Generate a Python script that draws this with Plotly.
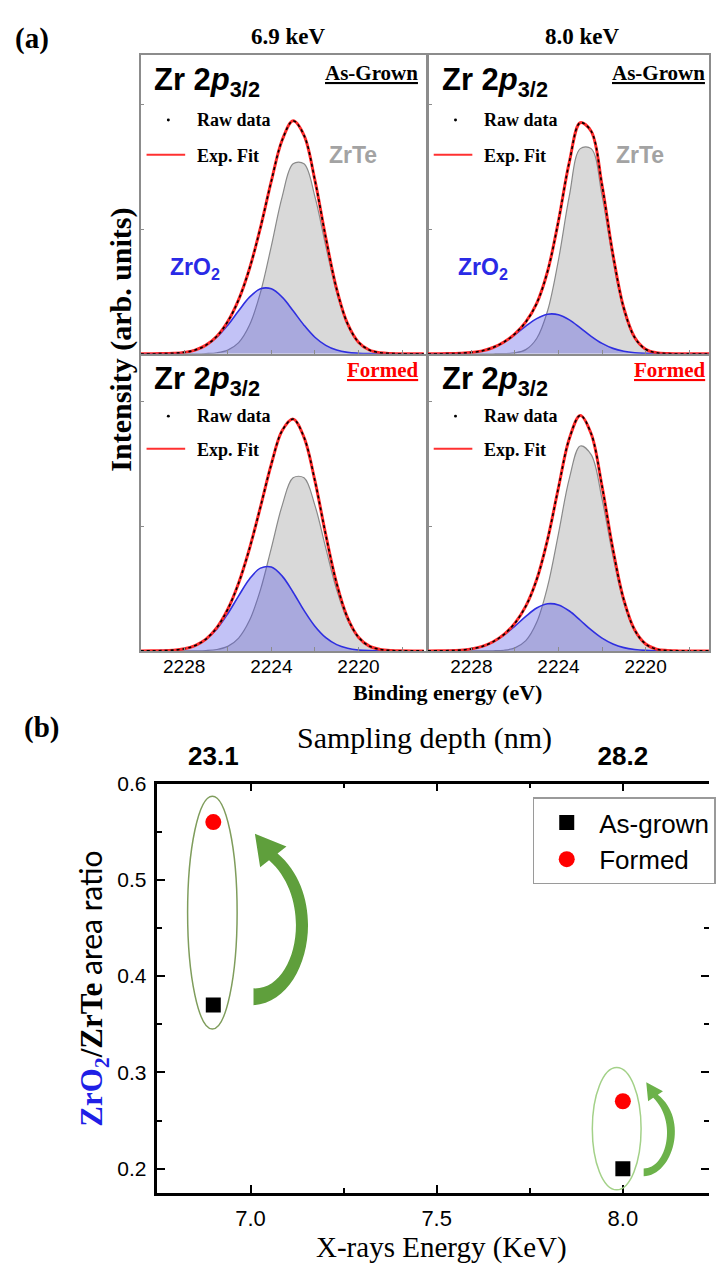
import plotly.graph_objects as go

W, H = 716, 1266

# ---------------- data: panel (a) ----------------
binding_energy_ev = [2230.0, 2229.5, 2229.0, 2228.5, 2228.0, 2227.5, 2227.0, 2226.5, 2226.0,
                     2225.5, 2225.0, 2224.5, 2224.0, 2223.5, 2223.0, 2222.5, 2222.0, 2221.5,
                     2221.0, 2220.5, 2220.0, 2219.5, 2219.0, 2218.5, 2218.0, 2217.5, 2217.0]

zrte_69_as_grown = [0, 0, 0, 0, 0, 0, 0.002, 0.008, 0.029, 0.089, 0.230, 0.490, 0.864, 1.261,
                    1.524, 1.524, 1.261, 0.864, 0.490, 0.230, 0.089, 0.029, 0.008, 0.002, 0, 0, 0]
zro2_69_as_grown = [0, 0, 0.001, 0.004, 0.011, 0.029, 0.067, 0.132, 0.229, 0.345, 0.454, 0.521,
                    0.521, 0.454, 0.345, 0.229, 0.132, 0.067, 0.029, 0.011, 0.004, 0.001, 0, 0, 0, 0, 0]

zrte_80_as_grown = [0, 0, 0, 0, 0, 0, 0, 0.001, 0.007, 0.033, 0.122, 0.345, 0.754, 1.268,
                    1.646, 1.646, 1.268, 0.754, 0.345, 0.122, 0.033, 0.007, 0.001, 0, 0, 0, 0]
zro2_80_as_grown = [0, 0, 0.001, 0.004, 0.010, 0.023, 0.050, 0.093, 0.153, 0.222, 0.282, 0.317,
                    0.313, 0.272, 0.208, 0.140, 0.083, 0.043, 0.020, 0.008, 0.003, 0.001, 0, 0, 0, 0, 0]

zrte_69_formed = [0, 0, 0, 0, 0, 0.001, 0.003, 0.011, 0.036, 0.103, 0.245, 0.490, 0.825, 1.168,
                  1.389, 1.389, 1.168, 0.825, 0.490, 0.245, 0.103, 0.036, 0.011, 0.003, 0.001, 0, 0]
zro2_69_formed = [0, 0.001, 0.002, 0.006, 0.017, 0.042, 0.092, 0.176, 0.298, 0.442, 0.577, 0.664,
                  0.673, 0.600, 0.471, 0.325, 0.198, 0.106, 0.050, 0.021, 0.007, 0.002, 0.001, 0, 0, 0, 0]

zrte_80_formed = [0, 0, 0, 0, 0, 0, 0.001, 0.005, 0.024, 0.082, 0.229, 0.517, 0.942, 1.385,
                  1.644, 1.575, 1.218, 0.760, 0.383, 0.156, 0.051, 0.013, 0.003, 0, 0, 0, 0]
zro2_80_formed = [0, 0.001, 0.002, 0.006, 0.016, 0.036, 0.072, 0.127, 0.199, 0.277, 0.344, 0.378,
                  0.369, 0.320, 0.246, 0.168, 0.102, 0.055, 0.026, 0.011, 0.004, 0.001, 0, 0, 0, 0, 0]

be_tick_vals = [2228, 2224, 2220]
be_minor_tick_vals = [2226, 2222, 2218]

# ---------------- data: panel (b) ----------------
xray_energy_kev = [6.9, 8.0]
ratio_as_grown = [0.37, 0.20]
ratio_formed = [0.56, 0.27]
sampling_depth_labels = ["23.1", "28.2"]

# decorations of panel (b), in data units
ellipse_69 = dict(x0=6.831, x1=6.964, y0=0.345, y1=0.587)
ellipse_80 = dict(x0=7.918, x1=8.049, y0=0.178, y1=0.305)
big_arrow = [("M", 7.008, 0.3698), ("C", 7.1569, 0.3729, 7.2154, 0.4808, 7.0726, 0.5274),
             ("L", 7.0965, 0.5347), ("L", 7.0117, 0.5480), ("L", 7.0258, 0.5132),
             ("L", 7.0497, 0.5205), ("C", 7.1729, 0.4787, 7.1250, 0.3852, 7.0080, 0.3873), ("Z",)]
small_arrow = [("M", 8.0559, 0.1920), ("C", 8.1356, 0.1930, 8.1782, 0.2516, 8.0939, 0.2768),
               ("L", 8.1077, 0.2804), ("L", 8.0628, 0.2897), ("L", 8.0678, 0.2701),
               ("L", 8.0816, 0.2737), ("C", 8.1463, 0.2495, 8.1197, 0.2002, 8.0559, 0.2002), ("Z",)]

SERIF = "Liberation Serif"
SANS = "Liberation Sans"


def px(x):
    return x / W


def py(y):
    return 1 - y / H


def path_str(cmds):
    parts = []
    for c in cmds:
        nums = c[1:]
        pts = " ".join(f"{nums[i]},{nums[i + 1]}" for i in range(0, len(nums), 2))
        parts.append((c[0] + " " + pts).strip())
    return " ".join(parts)


fig = go.Figure()
annotations = []
shapes = []


def ann(text, x, y, size, family=SERIF, color="black", xanchor="center", yanchor="middle", angle=0):
    annotations.append(dict(text=text, x=px(x), y=py(y), xref="paper", yref="paper",
                            showarrow=False, xanchor=xanchor, yanchor=yanchor, textangle=angle,
                            font=dict(size=size, family=family, color=color)))


# per-row offsets of the in-panel texts (px from panel top)
top_row_off = dict(title=28, status=19, raw=66, fit=102)
bottom_row_off = dict(title=26, status=14, raw=61, fit=95)

panels = [
    dict(n=1, L=142, R=431, T=43, B=345, zrte=zrte_69_as_grown, zro2=zro2_69_as_grown,
         status="As-Grown", scol="black", top=True, off=top_row_off),
    dict(n=2, L=432, R=716, T=43, B=345, zrte=zrte_80_as_grown, zro2=zro2_80_as_grown,
         status="As-Grown", scol="black", top=True, off=top_row_off),
    dict(n=3, L=142, R=431, T=347, B=645, zrte=zrte_69_formed, zro2=zro2_69_formed,
         status="Formed", scol="#ff0000", top=False, off=bottom_row_off),
    dict(n=4, L=432, R=716, T=347, B=645, zrte=zrte_80_formed, zro2=zro2_80_formed,
         status="Formed", scol="#ff0000", top=False, off=bottom_row_off),
]

PX_PER_EV = 22.0
PX_PER_UNIT = 125.8

layout_axes = {}
for p in panels:
    n = p["n"]
    xa = "x" if n == 1 else f"x{n}"
    ya = "y" if n == 1 else f"y{n}"
    fit = [a + b for a, b in zip(p["zrte"], p["zro2"])]
    common = dict(xaxis=xa, yaxis=ya, showlegend=False, hoverinfo="skip", x=binding_energy_ev)
    fig.add_trace(go.Scatter(y=p["zrte"], mode="lines", fill="tozeroy", fillcolor="#d9d9d9",
                             line=dict(color="#8a8a8a", width=1.2, shape="spline"), **common))
    fig.add_trace(go.Scatter(y=p["zro2"], mode="lines", fill="tozeroy",
                             fillcolor="rgba(80,80,230,0.35)",
                             line=dict(color="#2f2fe0", width=1.6, shape="spline"), **common))
    fig.add_trace(go.Scatter(y=fit, mode="lines",
                             line=dict(color="#ff2a2a", width=3, shape="spline"), **common))
    fig.add_trace(go.Scatter(y=fit, mode="lines",
                             line=dict(color="black", width=1.6, dash="dot", shape="spline"), **common))

    width_px = p["R"] - p["L"]
    height_px = p["B"] - p["T"]
    xkey = "xaxis" if n == 1 else f"xaxis{n}"
    ykey = "yaxis" if n == 1 else f"yaxis{n}"
    layout_axes[xkey] = dict(domain=[px(p["L"]), px(p["R"])],
                             range=[2230, 2230 - width_px / PX_PER_EV], anchor=ya,
                             showline=True, mirror=True, linecolor="#8c8c8c", linewidth=1.6,
                             ticks="inside", ticklen=4, tickcolor="#8c8c8c",
                             tickvals=be_tick_vals,
                             minor=dict(tickvals=be_minor_tick_vals, ticks="inside", ticklen=4,
                                        tickcolor="#8c8c8c"),
                             showticklabels=not p["top"], ticklabelstandoff=-2,
                             tickfont=dict(family=SANS, size=19, color="black"),
                             showgrid=False, zeroline=False)
    layout_axes[ykey] = dict(domain=[py(p["B"]), py(p["T"])],
                             range=[0, height_px / PX_PER_UNIT], anchor=xa,
                             showline=True, mirror=True, linecolor="#8c8c8c", linewidth=1.6,
                             ticks="inside", ticklen=4, tickcolor="#8c8c8c", tickvals=[1, 2],
                             showticklabels=False, showgrid=False, zeroline=False)

    L, T, o = p["L"], p["T"], p["off"]
    ann("<b>Zr 2<i>p</i><sub>3/2</sub></b>", L + 12, T + o["title"], 31, SANS, xanchor="left")
    ann(f"<b><u>{p['status']}</u></b>", L + 282, T + o["status"], 21, SERIF, p["scol"],
        xanchor="right")
    shapes.append(dict(type="circle", xref="paper", yref="paper", x0=px(L + 26.5), x1=px(L + 29.5),
                       y0=py(T + o["raw"] + 1.5), y1=py(T + o["raw"] - 1.5),
                       fillcolor="black", line=dict(width=0)))
    ann("<b>Raw data</b>", L + 55, T + o["raw"], 18, SERIF, xanchor="left")
    shapes.append(dict(type="line", xref="paper", yref="paper", x0=px(L + 6), x1=px(L + 45),
                       y0=py(T + o["fit"] - 1), y1=py(T + o["fit"] - 1),
                       line=dict(color="#ff3030", width=2)))
    ann("<b>Exp. Fit</b>", L + 55, T + o["fit"], 18, SERIF, xanchor="left")
    if p["top"]:
        ann("<b>ZrTe</b>", L + 188, T + 101, 23, SANS, "#a3a3a3", xanchor="left")
        ann("<b>ZrO<sub>2</sub></b>", L + 28, T + 216, 23, SANS, "#2a2ae6", xanchor="left")

ann("<b>(a)</b>", 32, 27, 29)
ann("<b>6.9 keV</b>", 291, 25, 23)
ann("<b>8.0 keV</b>", 588, 25, 23)
ann("<b>Binding energy (eV)</b>", 452, 687, 22)
ann("<b>Intensity (arb. units)</b>", 122, 331, 30, angle=-90)

# ---------------- panel (b) ----------------
fig.add_trace(go.Scatter(x=xray_energy_kev, y=ratio_as_grown, mode="markers", name="As-grown",
                         marker=dict(symbol="square", size=15, color="black"),
                         xaxis="x5", yaxis="y5", hoverinfo="skip"))
fig.add_trace(go.Scatter(x=xray_energy_kev, y=ratio_formed, mode="markers", name="Formed",
                         marker=dict(symbol="circle", size=16, color="#ff0000"),
                         xaxis="x5", yaxis="y5", hoverinfo="skip"))
# carriers for the top (sampling depth) axis and the right tick-only axis
fig.add_trace(go.Scatter(x=xray_energy_kev, y=ratio_formed, mode="markers", showlegend=False,
                         marker=dict(size=1, opacity=0), xaxis="x6", yaxis="y5", hoverinfo="skip"))
fig.add_trace(go.Scatter(x=xray_energy_kev, y=ratio_formed, mode="markers", showlegend=False,
                         marker=dict(size=1, opacity=0), xaxis="x5", yaxis="y6", hoverinfo="skip"))

B_L, B_R, B_T, B_B = 159, 716, 779, 1192
x_px_per_kev = 376.0
xrange_b = [6.75, 6.75 + (B_R - B_L) / x_px_per_kev]
yrange_b = [0.175, 0.6]
tick_style = dict(ticks="inside", ticklen=8, tickwidth=2, tickcolor="black",
                  showgrid=False, zeroline=False)
minor_x = dict(dtick=0.25, ticks="inside", ticklen=5, tickwidth=2, tickcolor="black")
minor_y = dict(dtick=0.05, ticks="inside", ticklen=5, tickwidth=2, tickcolor="black")
layout_axes["xaxis5"] = dict(domain=[px(B_L), px(B_R)], range=xrange_b, anchor="y5",
                             showline=True, linecolor="black", linewidth=2.5, mirror="ticks",
                             tick0=7.0, dtick=0.5, tickformat=".1f", minor=minor_x,
                             tickfont=dict(family=SANS, size=22, color="black"),
                             ticklabelstandoff=4, **tick_style)
layout_axes["yaxis5"] = dict(domain=[py(B_B), py(B_T)], range=yrange_b, anchor="x5",
                             showline=True, linecolor="black", linewidth=2.5, mirror=False,
                             tick0=0.2, dtick=0.1, tickformat=".1f", minor=minor_y,
                             tickfont=dict(family=SANS, size=21, color="black"),
                             ticklabelstandoff=4, **tick_style)
layout_axes["yaxis6"] = dict(overlaying="y5", side="right", anchor="x5", range=yrange_b,
                             showline=False, tick0=0.2, dtick=0.1, minor=minor_y,
                             showticklabels=False, **tick_style)
layout_axes["xaxis6"] = dict(overlaying="x5", side="top", anchor="y5", range=xrange_b,
                             tickvals=xray_energy_kev, ticktext=sampling_depth_labels,
                             ticks="", showline=False, showgrid=False, zeroline=False,
                             ticklabelstandoff=12,
                             tickfont=dict(family=SANS, size=26, color="black", weight="bold"))

shapes.append(dict(type="circle", xref="x5", yref="y5", **ellipse_69,
                   line=dict(color="#7f9d5c", width=1.5)))
shapes.append(dict(type="circle", xref="x5", yref="y5", **ellipse_80,
                   line=dict(color="#a3d188", width=1.5)))
shapes.append(dict(type="path", xref="x5", yref="y5", path=path_str(big_arrow),
                   fillcolor="#5f9f3c", line=dict(width=0)))
shapes.append(dict(type="path", xref="x5", yref="y5", path=path_str(small_arrow),
                   fillcolor="#6cb24a", line=dict(width=0)))

ann("<b>(b)</b>", 42, 722, 29)
ann("Sampling depth (nm)", 429, 733, 30)
ann("X-rays Energy (KeV)", 446, 1247, 29)
ann("<b><span style='color:#1f1fe6'>ZrO<sub>2</sub></span>/ZrTe</b>"
    "<span style='font-family:Lato;font-size:30px'> area ratio</span>",
    94, 986, 31, angle=-90)

fig.update_layout(
    width=W, height=H, autosize=False,
    margin=dict(l=0, r=0, t=0, b=0),
    paper_bgcolor="white", plot_bgcolor="white",
    annotations=annotations, shapes=shapes,
    legend=dict(x=px(538), y=py(793), xanchor="left", yanchor="top",
                bgcolor="white", bordercolor="#9a9a9a", borderwidth=1.5,
                font=dict(family=SANS, size=26, color="black"), itemwidth=55,
                tracegroupgap=0),
    **layout_axes,
)

fig.write_html("out.html", config={"displayModeBar": False},
               post_script="document.body.style.margin='0px';"
                           "document.body.style.overflow='hidden';")
